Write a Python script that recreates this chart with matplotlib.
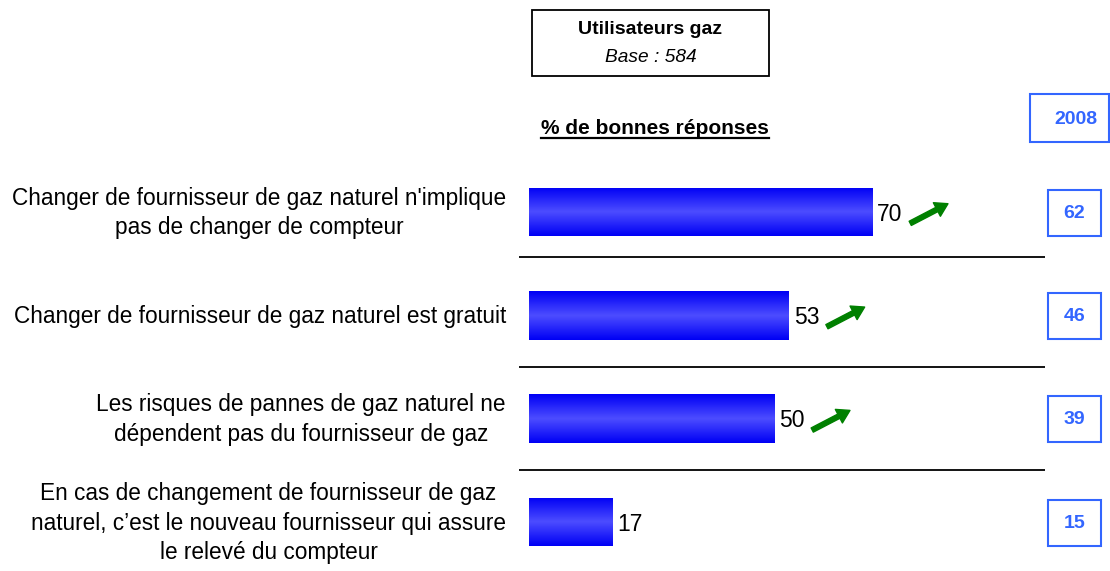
import numpy as np
import matplotlib
matplotlib.use("Agg")
import matplotlib.pyplot as plt
from matplotlib.colors import LinearSegmentedColormap
from matplotlib.patches import Rectangle
from matplotlib.lines import Line2D
from matplotlib.transforms import blended_transform_factory

plt.rcParams['font.family'] = ['Liberation Sans', 'DejaVu Sans']

# données
questions = [
    "Changer de fournisseur de gaz naturel n'implique\npas de changer de compteur",
    "Changer de fournisseur de gaz naturel est gratuit",
    "Les risques de pannes de gaz naturel ne\ndépendent pas du fournisseur de gaz",
    "En cas de changement de fournisseur de gaz\nnaturel, c\u2019est le nouveau fournisseur qui assure\nle relevé du compteur",
]
scores_2010 = [70, 53, 50, 17]
scores_2008 = [62, 46, 39, 15]
hausse = [True, True, True, False]

W, H = 1110, 571


def fx(px):
    return px / W


def fy(py):
    return 1 - py / H


fig = plt.figure(figsize=(W / 100, H / 100), dpi=100)
fig.patch.set_facecolor('white')

# axe principal : x de 519 px à 1045 px, y de 160 px à 571 px
ax = fig.add_axes([fx(519), 0, fx(1045) - fx(519), fy(160)])
ax.axis('off')

ypos = np.arange(len(questions))
bars = ax.barh(ypos, scores_2010, height=0.47, left=0, color='#0000ff', edgecolor='none')

# dégradé vertical dans les barres
cmap = LinearSegmentedColormap.from_list('bleu', ['#0000f5', '#4d4dff', '#0000f5'])
grad = np.linspace(0, 1, 64).reshape(-1, 1)
for b in bars:
    x0, y0, w, h = b.get_x(), b.get_y(), b.get_width(), b.get_height()
    im = ax.imshow(grad, cmap=cmap, aspect='auto', extent=(x0, x0 + w, y0 + h, y0),
                   interpolation='bicubic', zorder=3)
    im.set_clip_path(b)
ax.set_xlim(-2.04, 105.3)
ax.set_ylim(3.474, -0.503)

# valeurs + flèches
for i, (v, up) in enumerate(zip(scores_2010, hausse)):
    ax.text(v + 1.0, i + 0.02, str(v), ha='left', va='center', fontsize=16.5, color='black', zorder=4)
    if up:
        ax.annotate('', xy=(v + 15.5, i - 0.08), xytext=(v + 7.8, i + 0.11),
                    arrowprops=dict(facecolor='#008000', edgecolor='#008000', width=3.4,
                                    headwidth=11, headlength=9, shrink=0), zorder=4)

# séparateurs
for ysep in [0.44, 1.5, 2.5]:
    ax.axhline(ysep, color='black', linewidth=1.3)

# libellés à gauche
trans = blended_transform_factory(fig.transFigure, ax.transData)
for i, q in enumerate(questions):
    ax.text(fx(506), i + 0.01, q, transform=trans, ha='right', va='center',
            multialignment='center', fontsize=16.3, linespacing=1.38, clip_on=False)

# colonne 2008
for i, v in enumerate(scores_2008):
    rect = Rectangle((fx(1048), i - 0.215), fx(53), 0.445, transform=trans,
                     facecolor='white', edgecolor='#3366ff', linewidth=1.5, clip_on=False)
    ax.add_patch(rect)
    ax.text(fx(1074.5), i + 0.01, str(v), transform=trans, ha='center', va='center',
            fontsize=14, fontweight='bold', color='#3366ff', clip_on=False)

fig.add_artist(Rectangle((fx(1030), fy(142)), fx(1109) - fx(1030), fy(94) - fy(142),
                         transform=fig.transFigure, facecolor='white', edgecolor='#3366ff', linewidth=1.5))
fig.text(fx(1076), fy(119), "2008", ha='center', va='center', fontsize=14,
         fontweight='bold', color='#3366ff')

# encadré en-tête
fig.add_artist(Rectangle((fx(532), fy(76)), fx(237), fy(10) - fy(76),
                         transform=fig.transFigure, facecolor='white', edgecolor='black', linewidth=1.3))
fig.text(fx(650), fy(30), "Utilisateurs gaz", ha='center', va='center', fontsize=14, fontweight='bold')
fig.text(fx(651), fy(58), "Base : 584", ha='center', va='center', fontsize=13.8, style='italic')

# titre souligné
t = fig.text(fx(655), fy(128), "% de bonnes réponses", ha='center', va='center',
             fontsize=15, fontweight='bold')
fig.canvas.draw()
bb = t.get_window_extent().transformed(fig.transFigure.inverted())
fig.add_artist(Line2D([bb.x0, bb.x1], [bb.y0, bb.y0], transform=fig.transFigure,
                      color='black', linewidth=1.6))

fig.savefig('out.png', dpi=100, facecolor='white')
